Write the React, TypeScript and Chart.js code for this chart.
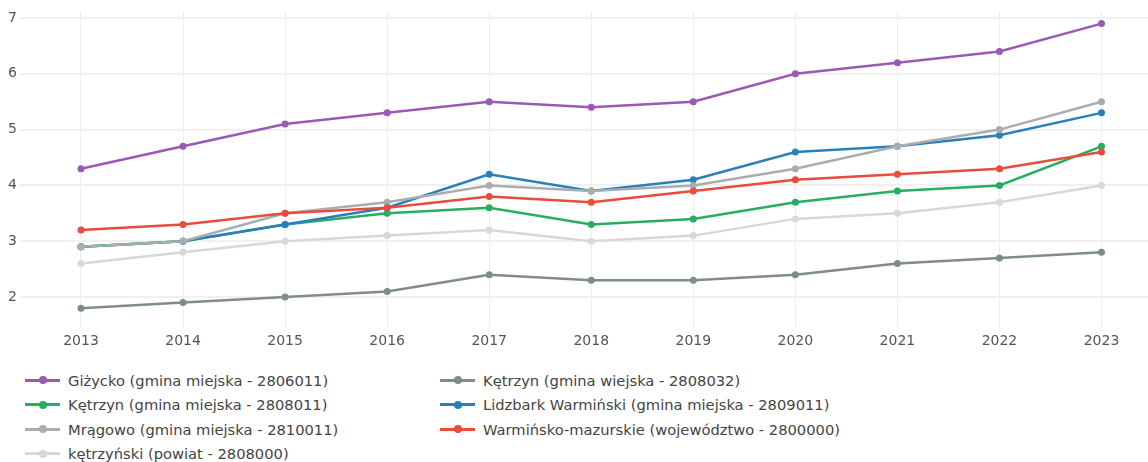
import React, { useEffect, useRef } from "react";
import { Chart, registerables } from "chart.js";

Chart.register(...registerables);

const years = [2013, 2014, 2015, 2016, 2017, 2018, 2019, 2020, 2021, 2022, 2023];
const yTicks = [2, 3, 4, 5, 6, 7];

const gizycko = [4.3, 4.7, 5.1, 5.3, 5.5, 5.4, 5.5, 6.0, 6.2, 6.4, 6.9];
const ketrzynWiejska = [1.8, 1.9, 2.0, 2.1, 2.4, 2.3, 2.3, 2.4, 2.6, 2.7, 2.8];
const ketrzynMiejska = [2.9, 3.0, 3.3, 3.5, 3.6, 3.3, 3.4, 3.7, 3.9, 4.0, 4.7];
const lidzbark = [2.9, 3.0, 3.3, 3.6, 4.2, 3.9, 4.1, 4.6, 4.7, 4.9, 5.3];
const mragowo = [2.9, 3.0, 3.5, 3.7, 4.0, 3.9, 4.0, 4.3, 4.7, 5.0, 5.5];
const warminsko = [3.2, 3.3, 3.5, 3.6, 3.8, 3.7, 3.9, 4.1, 4.2, 4.3, 4.6];
const ketrzynski = [2.6, 2.8, 3.0, 3.1, 3.2, 3.0, 3.1, 3.4, 3.5, 3.7, 4.0];

const seriesNames = [
  "Giżycko (gmina miejska - 2806011)",
  "Kętrzyn (gmina wiejska - 2808032)",
  "Kętrzyn (gmina miejska - 2808011)",
  "Lidzbark Warmiński (gmina miejska - 2809011)",
  "Mrągowo (gmina miejska - 2810011)",
  "Warmińsko-mazurskie (województwo - 2800000)",
  "kętrzyński (powiat - 2808000)",
];
const seriesValues = [gizycko, ketrzynWiejska, ketrzynMiejska, lidzbark, mragowo, warminsko, ketrzynski];
const seriesColors = ["#9b59b6", "#7f8c8d", "#27ae60", "#2980b9", "#aaadb0", "#e74c3c", "#d6d8d9"];

const FONT = "'DejaVu Sans', Verdana, sans-serif";

export default function App() {
  const ref = useRef<HTMLCanvasElement | null>(null);

  useEffect(() => {
    document.body.style.margin = "0";
    const ctx = ref.current;
    if (!ctx) return;
    const chart = new Chart(ctx, {
      type: "line",
      data: {
        datasets: seriesNames.map((name, i) => ({
          label: name,
          data: years.map((y, j) => ({ x: y, y: seriesValues[i][j] })),
          borderColor: seriesColors[i],
          backgroundColor: seriesColors[i],
          pointBackgroundColor: seriesColors[i],
          pointBorderColor: seriesColors[i],
          borderWidth: 2.5,
          pointRadius: 3.5,
          pointBorderWidth: 0,
          tension: 0,
          order: -i,
        })),
      },
      options: {
        animation: false,
        responsive: false,
        maintainAspectRatio: false,
        layout: { padding: { top: 6, right: 0, left: 0, bottom: 0 } },
        plugins: {
          legend: { display: false },
          tooltip: { enabled: false },
        },
        scales: {
          x: {
            type: "linear",
            min: 2012.4023,
            max: 2023.4556,
            afterFit: (s: any) => {
              s.height = 33;
            },
            afterBuildTicks: (s: any) => {
              s.ticks = years.map((v) => ({ value: v }));
            },
            ticks: {
              padding: 6,
              color: "#555",
              font: { family: FONT, size: 14 },
              callback: (v: any) => String(v),
              maxRotation: 0,
              autoSkip: false,
            },
            grid: { color: "#ededed", lineWidth: 1, drawTicks: false },
            border: { display: false },
          },
          y: {
            type: "linear",
            min: 1.4624,
            max: 7.1183,
            afterFit: (s: any) => {
              s.width = 20;
            },
            afterBuildTicks: (s: any) => {
              s.ticks = yTicks.map((v) => ({ value: v }));
            },
            ticks: {
              padding: 3,
              color: "#555",
              font: { family: FONT, size: 14 },
              callback: (v: any) => String(v),
            },
            grid: { color: "#f0f0f0", lineWidth: 2, drawTicks: false },
            border: { display: false },
          },
        },
      },
    });
    return () => chart.destroy();
  }, []);

  const colX = [25, 440];
  const rowY = [370, 394.5, 419, 443.5];

  return (
    <div style={{ position: "relative", width: 1148, height: 462, background: "#fff", overflow: "hidden" }}>
      <canvas ref={ref} width={1152} height={360} style={{ position: "absolute", left: 0, top: 0 }} />
      {seriesNames.map((name, i) => {
        const col = i % 2;
        const row = Math.floor(i / 2);
        return (
          <div
            key={name}
            style={{
              position: "absolute",
              left: colX[col],
              top: rowY[row],
              height: 20,
              display: "flex",
              alignItems: "center",
              fontFamily: FONT,
              fontSize: 14.7,
              color: "#444",
              whiteSpace: "nowrap",
            }}
          >
            <div style={{ position: "relative", width: 35, height: 20, marginRight: 8 }}>
              <div
                style={{
                  position: "absolute",
                  left: 0,
                  top: 8.5,
                  width: 35,
                  height: 3,
                  background: seriesColors[i],
                }}
              />
              <div
                style={{
                  position: "absolute",
                  left: 13.5,
                  top: 6,
                  width: 8,
                  height: 8,
                  borderRadius: 4,
                  background: seriesColors[i],
                }}
              />
            </div>
            <span>{name}</span>
          </div>
        );
      })}
    </div>
  );
}
